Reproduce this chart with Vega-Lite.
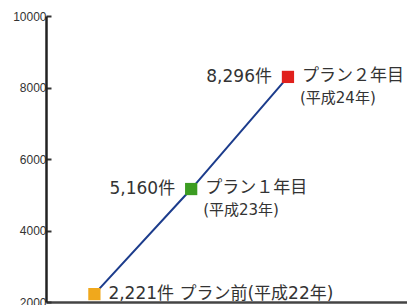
{
  "$schema": "https://vega.github.io/schema/vega-lite/v6.json",
  "width": 361,
  "height": 286,
  "autosize": "none",
  "padding": {"left": 46, "top": 16, "right": 0, "bottom": 3},
  "background": "white",
  "config": {"view": {"stroke": null}},
  "data": {"values": [
    {"step": 0, "value": 2221, "stage": "プラン前", "count": "2,221件", "plan": "プラン前", "era": "(平成22年)", "single": "2,221件 プラン前(平成22年)"},
    {"step": 1, "value": 5160, "stage": "プラン1年目", "count": "5,160件", "plan": "プラン１年目", "era": "(平成23年)", "single": ""},
    {"step": 2, "value": 8296, "stage": "プラン2年目", "count": "8,296件", "plan": "プラン２年目", "era": "(平成24年)", "single": ""}
  ]},
  "encoding": {
    "x": {"field": "step", "type": "quantitative", "scale": {"domain": [-0.5, 3.23], "nice": false, "zero": false},
      "axis": {"title": null, "labels": false, "ticks": false, "grid": false, "domainColor": "#444", "domainWidth": 2.5}},
    "y": {"field": "value", "type": "quantitative", "scale": {"domain": [2000, 10000], "nice": false, "zero": false},
      "axis": {"title": null, "values": [2000, 4000, 6000, 8000, 10000], "format": "d", "grid": false, "domainColor": "#222", "domainWidth": 2.5,
        "tickColor": "#333", "tickWidth": 2, "tickSize": -5, "labelPadding": 5, "labelFont": "Liberation Sans", "labelFontSize": 12, "labelColor": "#333"}}
  },
  "layer": [
    {"mark": {"type": "line", "color": "#1c3c8c", "strokeWidth": 2}},
    {"mark": {"type": "square", "size": 150, "opacity": 1, "filled": true},
      "encoding": {"color": {"field": "stage", "type": "nominal", "sort": null, "legend": null,
        "scale": {"domain": ["プラン前", "プラン1年目", "プラン2年目"], "range": ["#f0a81c", "#3c9c22", "#e0201c"]}}}},
    {"transform": [{"filter": "datum.step > 0"}],
      "mark": {"type": "text", "align": "right", "baseline": "middle", "dx": -16, "font": "DejaVu Sans, Noto Sans CJK JP", "fontSize": 17, "color": "#333"},
      "encoding": {"text": {"field": "count"}}},
    {"transform": [{"filter": "datum.step > 0"}],
      "mark": {"type": "text", "align": "left", "baseline": "middle", "dx": 14, "dy": -1, "font": "DejaVu Sans, Noto Sans CJK JP", "fontSize": 17, "color": "#333"},
      "encoding": {"text": {"field": "plan"}}},
    {"transform": [{"filter": "datum.step > 0"}],
      "mark": {"type": "text", "align": "left", "baseline": "middle", "dx": 12, "dy": 21, "font": "DejaVu Sans, Noto Sans CJK JP", "fontSize": 15, "color": "#333"},
      "encoding": {"text": {"field": "era"}}},
    {"transform": [{"filter": "datum.step == 0"}],
      "mark": {"type": "text", "align": "left", "baseline": "middle", "dx": 14, "font": "DejaVu Sans, Noto Sans CJK JP", "fontSize": 17, "color": "#333"},
      "encoding": {"text": {"field": "single"}}}
  ]
}
